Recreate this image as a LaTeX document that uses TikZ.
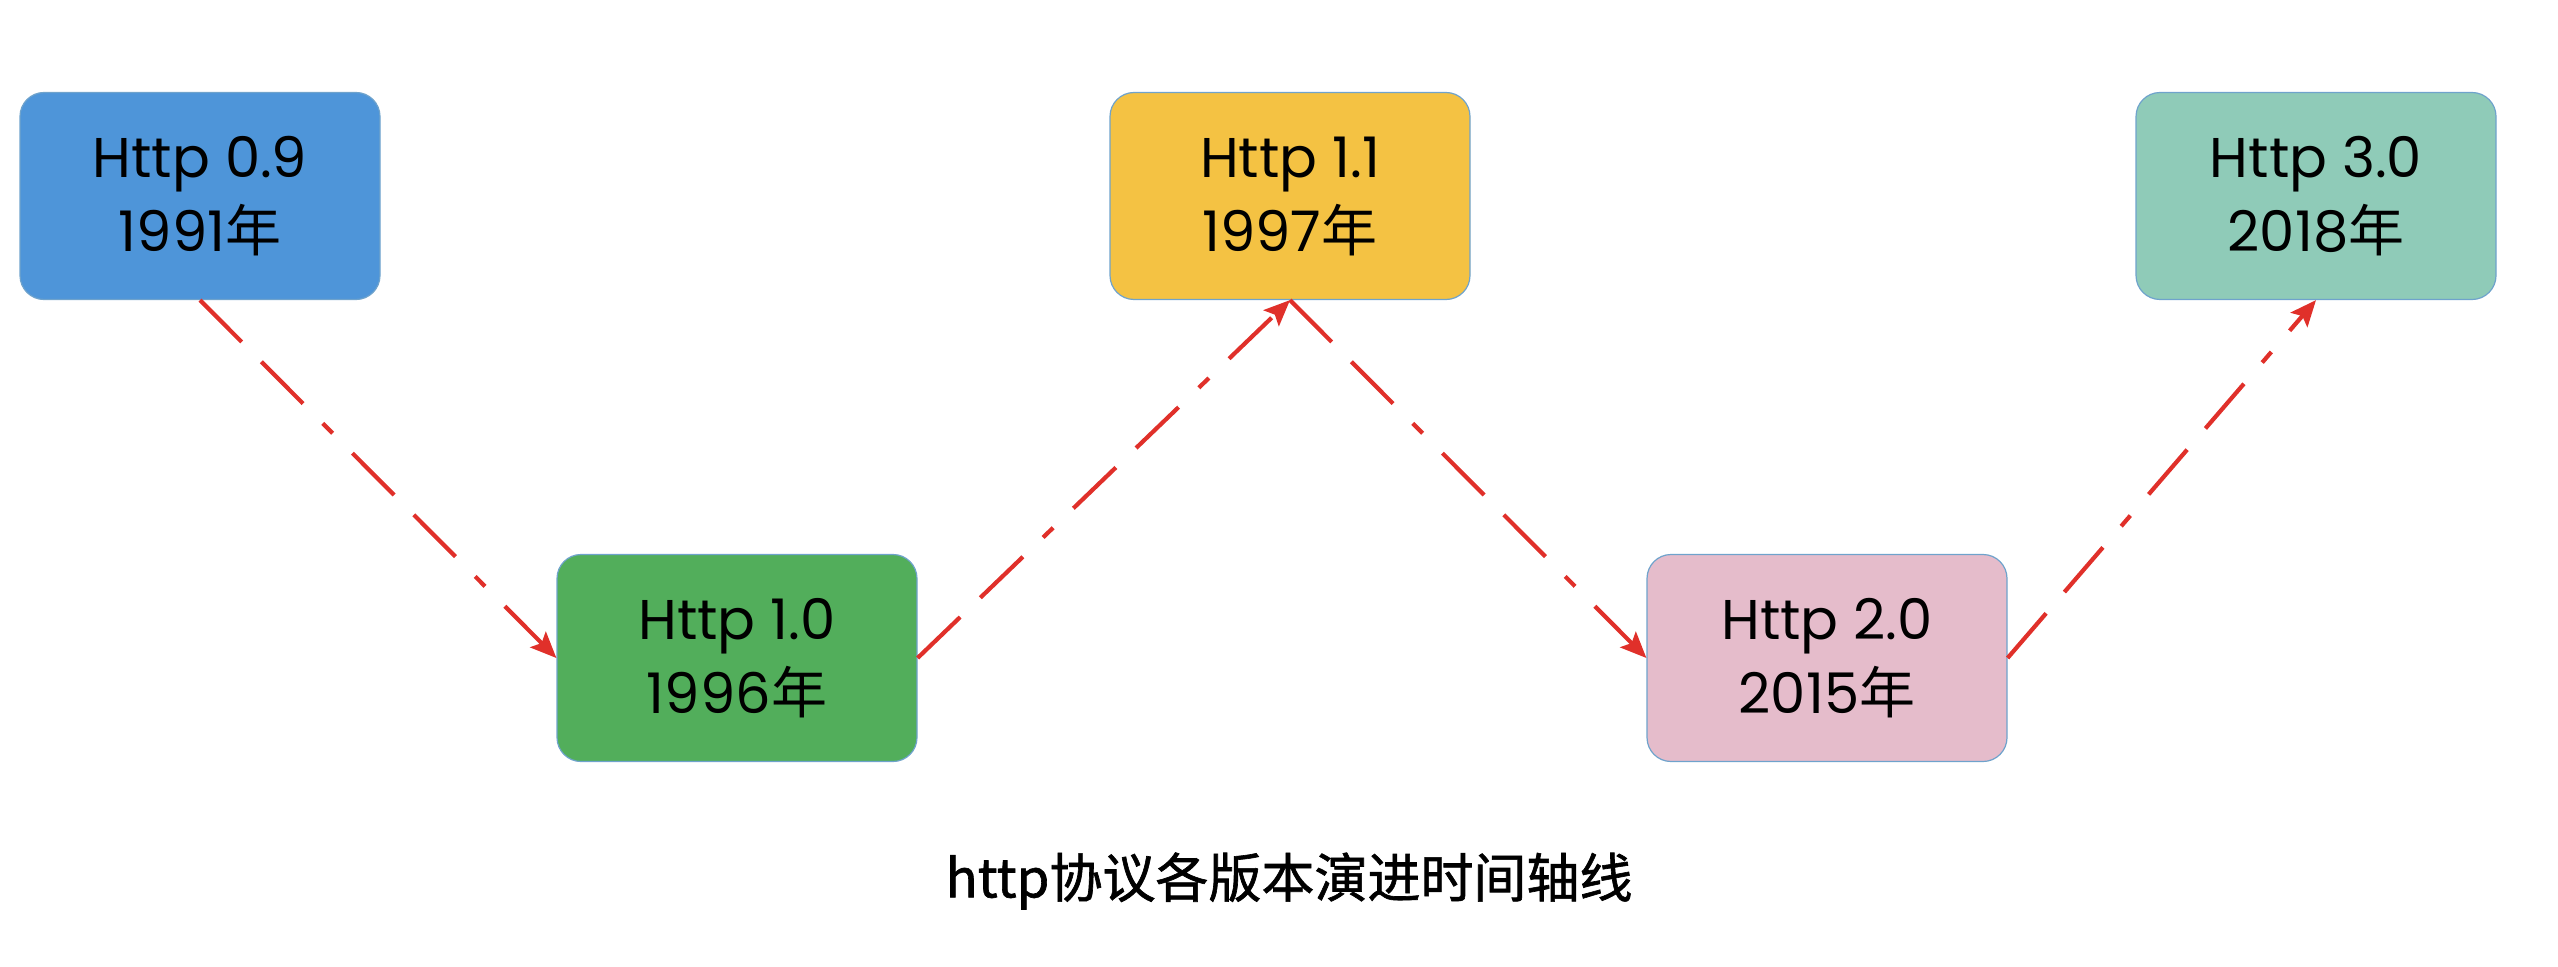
\documentclass[tikz,border=0pt]{standalone}
\usepackage{fontspec}
\setmainfont{Poppins}
\newfontfamily\cjk{Noto Sans CJK SC}
\newfontfamily\cjkhead[FakeBold=1.2]{Noto Sans CJK SC}
\usetikzlibrary{arrows.meta,positioning}

\definecolor{verblue}{HTML}{4E95D9}
\definecolor{vergreen}{HTML}{52AE5B}
\definecolor{veryellow}{HTML}{F4C243}
\definecolor{verpink}{HTML}{E5BCCB}
\definecolor{verteal}{HTML}{8FCBB8}
\definecolor{boxline}{HTML}{6FA3CC}
\definecolor{hopred}{HTML}{E0302A}

\begin{document}
\begin{tikzpicture}[
    x=0.5pt,y=0.5pt,
    ver/.style={draw=boxline,line width=0.6pt,rounded corners=12pt,
      minimum width=180pt,minimum height=103.5pt,align=center,
      font=\fontsize{28}{37}\selectfont},
    hop/.style={->,draw=hopred,line width=2.1pt,
      dash pattern=on 29.5pt off 14pt on 29.5pt off 14pt on 7pt off 14pt},
    >={Stealth[length=13pt,width=11pt,inset=2.5pt]}]
  \useasboundingbox (0,0) rectangle (2558,966);
  \node[ver,fill=verblue] (v09) at (200,770) {Http 0.9\\1991{\cjk 年}};
  \node[ver,fill=vergreen] (v10) at (737,308) {Http 1.0\\1996{\cjk 年}};
  \node[ver,fill=veryellow] (v11) at (1290,770) {Http 1.1\\1997{\cjk 年}};
  \node[ver,fill=verpink] (v20) at (1827,308) {Http 2.0\\2015{\cjk 年}};
  \node[ver,fill=verteal] (v30) at (2316,770) {Http 3.0\\2018{\cjk 年}};
  \node[font=\cjkhead\fontsize{26.5}{30}\selectfont] (title) at (1289,85) {http协议各版本演进时间轴线};
  \draw[hop] (v09.south) -- (v10.west);
  \draw[hop] (v10.east) -- (v11.south);
  \draw[hop] (v11.south) -- (v20.west);
  \draw[hop] (v20.east) -- (v30.south);
\end{tikzpicture}
\end{document}
